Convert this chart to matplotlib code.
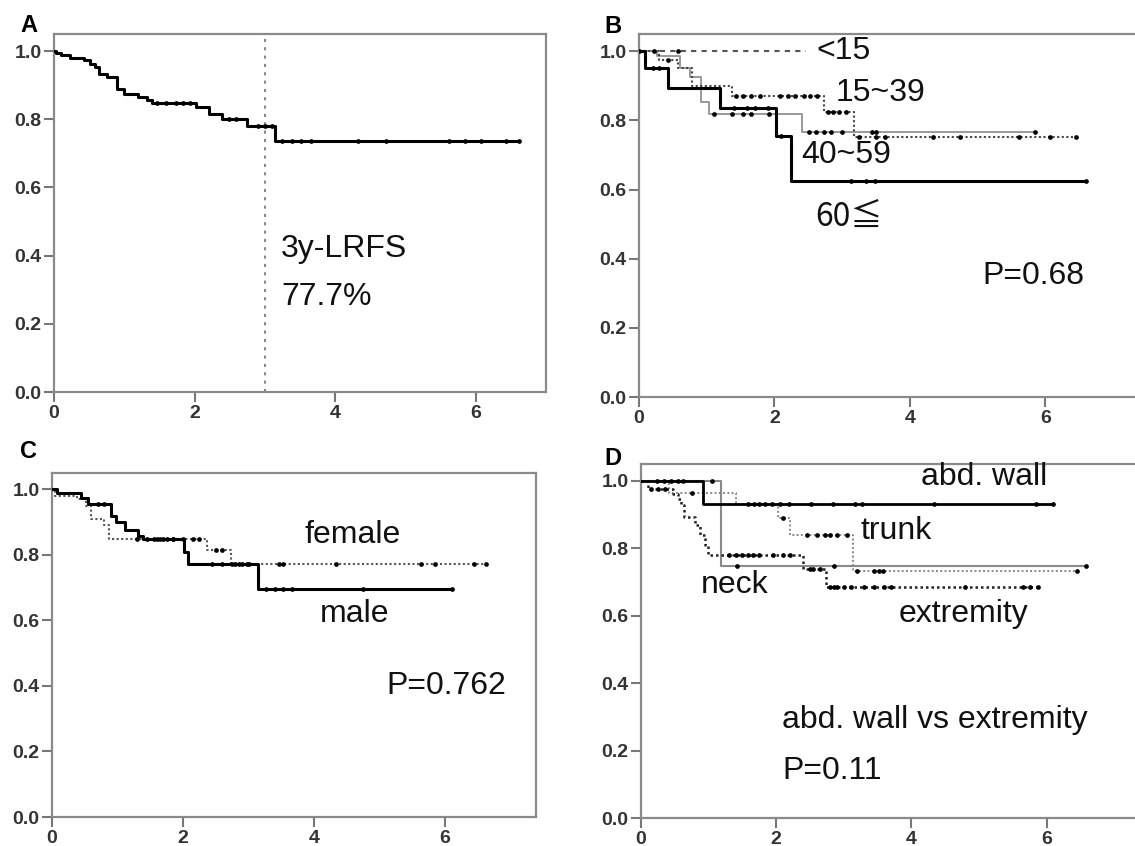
import numpy as np
import matplotlib
matplotlib.use('Agg')
import matplotlib.pyplot as plt

plt.rcParams['font.family'] = ['Liberation Sans', 'DejaVu Sans']

# ---- panel A: all patients
A_times = [0.03, 0.10, 0.23, 0.43, 0.51, 0.58, 0.64, 0.76, 0.90, 0.99, 1.19, 1.32, 1.40,
           2.02, 2.21, 2.39, 2.74, 3.15]
A_surv = [0.995, 0.987, 0.980, 0.973, 0.963, 0.953, 0.933, 0.923, 0.889, 0.874, 0.864, 0.857, 0.848,
          0.835, 0.815, 0.802, 0.779, 0.737]
A_cens = [1.47, 1.60, 1.73, 1.83, 1.93, 2.49, 2.59, 2.90, 3.0, 3.1, 3.25, 3.38, 3.51, 3.66,
          4.32, 4.73, 5.62, 5.85, 6.08, 6.43, 6.61]
A_end = 6.61

# ---- panel B: age groups
B_lt15_times, B_lt15_surv, B_lt15_cens, B_lt15_end = [], [], [0.0, 0.22, 0.57], 2.47
B_15_times = [0.30, 0.57, 0.79, 1.38, 2.74, 3.17]
B_15_surv = [0.976, 0.951, 0.90, 0.871, 0.825, 0.752]
B_15_cens = [0.43, 1.44, 1.54, 1.65, 1.79, 2.09, 2.20, 2.30, 2.44, 2.52, 2.63, 2.79, 2.87, 2.95,
             3.06, 3.25, 3.50, 3.63, 4.34, 4.74, 5.61, 6.07, 6.45]
B_15_end = 6.45
B_40_times = [0.27, 0.60, 0.76, 0.92, 1.03, 2.41]
B_40_surv = [0.985, 0.951, 0.927, 0.854, 0.820, 0.767]
B_40_cens = [1.11, 1.38, 1.54, 1.65, 1.92, 2.51, 2.62, 2.73, 2.84, 3.0, 3.44, 3.50, 5.85]
B_40_end = 5.85
B_60_times = [0.09, 0.43, 1.19, 2.03, 2.25]
B_60_surv = [0.951, 0.895, 0.837, 0.755, 0.626]
B_60_cens = [0.2, 0.3, 1.4, 1.6, 1.72, 1.9, 2.1, 3.13, 3.35, 3.48, 6.6]
B_60_end = 6.6

# ---- panel C: sex
C_m_times = [0.08, 0.44, 0.55, 0.90, 0.98, 1.12, 1.31, 1.39, 2.02, 2.07, 3.14]
C_m_surv = [0.99, 0.975, 0.955, 0.92, 0.90, 0.876, 0.858, 0.848, 0.81, 0.772, 0.695]
C_m_cens = [0.7, 0.8, 1.55, 1.65, 1.75, 1.85, 2.45, 2.59, 2.75, 2.86, 2.97, 3.27, 3.41, 3.52,
            3.66, 4.75, 6.11]
C_m_end = 6.11
C_f_times = [0.05, 0.38, 0.52, 0.60, 0.79, 0.87, 2.37, 2.73]
C_f_surv = [0.98, 0.97, 0.95, 0.91, 0.89, 0.85, 0.815, 0.772]
C_f_cens = [1.3, 1.45, 1.6, 1.7, 1.85, 2.0, 2.15, 2.25, 2.5, 2.6, 2.8, 2.9, 3.0, 3.47, 3.52,
            4.34, 5.64, 5.85, 6.45, 6.63]
C_f_end = 6.63

# ---- panel D: site
D_abd_times, D_abd_surv = [0.91], [0.93]
D_abd_cens = [0.23, 0.34, 0.45, 0.54, 0.62, 1.59, 1.67, 1.75, 1.84, 1.94, 2.05, 2.19, 2.51, 2.84,
              3.16, 3.27, 4.33, 5.85, 6.09]
D_abd_end = 6.09
D_tr_times = [0.42, 1.40, 2.02, 2.21, 3.14]
D_tr_surv = [0.965, 0.93, 0.89, 0.84, 0.734]
D_tr_cens = [0.75, 2.1, 2.45, 2.6, 2.72, 2.8, 2.9, 3.05, 3.2, 3.45, 3.52, 3.58, 6.45]
D_tr_end = 6.45
D_nk_times, D_nk_surv = [1.18], [0.747]
D_nk_cens = [1.05, 1.42, 2.86, 6.58]
D_nk_end = 6.58
D_ex_times = [0.10, 0.48, 0.55, 0.59, 0.64, 0.80, 0.88, 0.94, 0.99, 2.40, 2.73]
D_ex_surv = [0.975, 0.962, 0.947, 0.927, 0.893, 0.868, 0.84, 0.81, 0.779, 0.74, 0.685]
D_ex_cens = [0.15, 0.25, 0.35, 1.3, 1.4, 1.5, 1.58, 1.65, 1.75, 1.95, 2.1, 2.2, 2.5, 2.55, 2.65,
             2.8, 2.85, 2.9, 3.0, 3.1, 3.3, 3.45, 3.6, 3.7, 4.8, 5.65, 5.75, 5.88]
D_ex_end = 5.88


def km(ax, times, surv, cens, end, color='black', lw=2.0, ls='-', ms=3.4):
    x = [0.0] + list(times) + [end]
    y = [1.0] + list(surv) + [surv[-1] if surv else 1.0]
    ax.step(x, y, where='post', color=color, lw=lw, linestyle=ls, zorder=3)
    t = np.array(times)
    s = np.array([1.0] + list(surv))
    idx = np.searchsorted(t, np.array(cens), side='right')
    ax.plot(cens, s[idx], 'o', color='black', ms=ms, mec='none', zorder=4)


def frame(ax, xmax):
    ax.set_xlim(0, xmax)
    ax.set_ylim(0, 1.05)
    ax.set_xticks([0, 2, 4, 6])
    ax.set_yticks([0.0, 0.2, 0.4, 0.6, 0.8, 1.0])
    ax.set_yticklabels(['0.0', '0.2', '0.4', '0.6', '0.8', '1.0'])
    for sp in ax.spines.values():
        sp.set_color('#8a8a8a')
        sp.set_linewidth(1.6)
    ax.tick_params(direction='out', length=7, width=1.5, color='#777777',
                   labelsize=14, labelcolor='#333333', pad=2)
    for lab in ax.get_xticklabels() + ax.get_yticklabels():
        lab.set_fontweight('bold')


W, H = 1135, 846
fig = plt.figure(figsize=(W / 100, H / 100), dpi=100)

def px_axes(left, right, top, bottom):
    return fig.add_axes([left / W, 1 - bottom / H, (right - left) / W, (bottom - top) / H])

txt = dict(fontsize=23, color='#111111', va='center', ha='left')

# A
axA = px_axes(54, 546, 34, 392)
frame(axA, 7.0)
axA.axvline(3.0, color='#888888', lw=1.5, linestyle=(0, (1.5, 2.5)))
km(axA, A_times, A_surv, A_cens, A_end, lw=2.2)
axA.text(3.23, 0.42, '3y-LRFS', **txt)
axA.text(3.23, 0.28, '77.7%', **txt)

# B
axB = px_axes(639, 1150, 34, 397)
frame(axB, (1150 - 639) / 67.7)
km(axB, B_lt15_times, B_lt15_surv, B_lt15_cens, B_lt15_end, color='#555555', lw=1.5, ls=(0, (2.5, 2.5)))
km(axB, B_40_times, B_40_surv, B_40_cens, B_40_end, color='#999999', lw=1.4)
km(axB, B_15_times, B_15_surv, B_15_cens, B_15_end, color='#444444', lw=1.5, ls=(0, (1, 1.2)))
km(axB, B_60_times, B_60_surv, B_60_cens, B_60_end, lw=2.2)
axB.text(2.62, 1.0, '<15', **txt)
axB.text(2.9, 0.88, '15~39', **txt)
axB.text(2.4, 0.70, '40~59', **txt)
axB.text(2.6, 0.52, '60≦', fontsize=23, color='#111111', va='center', ha='left',
         family=['Noto Sans CJK JP', 'DejaVu Sans'])
axB.text(5.07, 0.35, 'P=0.68', **txt)

# C
axC = px_axes(52, 536, 473, 817)
frame(axC, (536 - 52) / 65.5)
km(axC, C_f_times, C_f_surv, C_f_cens, C_f_end, color='#555555', lw=1.5, ls=(0, (1, 1.2)))
km(axC, C_m_times, C_m_surv, C_m_cens, C_m_end, lw=2.2)
axC.text(3.85, 0.86, 'female', **txt)
axC.text(4.09, 0.62, 'male', **txt)
axC.text(5.1, 0.40, 'P=0.762', **txt)

# D
axD = px_axes(641, 1150, 464, 818)
frame(axD, (1150 - 641) / 67.6)
km(axD, D_nk_times, D_nk_surv, D_nk_cens, D_nk_end, color='#8a8a8a', lw=1.5)
km(axD, D_tr_times, D_tr_surv, D_tr_cens, D_tr_end, color='#888888', lw=1.4, ls=(0, (1, 1.2)))
km(axD, D_ex_times, D_ex_surv, D_ex_cens, D_ex_end, color='#222222', lw=1.8, ls=(0, (1, 1.2)))
km(axD, D_abd_times, D_abd_surv, D_abd_cens, D_abd_end, lw=2.0)
axD.text(4.14, 1.01, 'abd. wall', **txt)
axD.text(3.24, 0.85, 'trunk', **txt)
axD.text(0.88, 0.69, 'neck', **txt)
axD.text(3.81, 0.605, 'extremity', **txt)
axD.text(2.09, 0.29, 'abd. wall vs extremity', **txt)
axD.text(2.09, 0.14, 'P=0.11', **txt)

lab = dict(fontsize=17, fontweight='bold', color='black', va='baseline')
fig.text(20 / W, 1 - 32 / H, 'A', **lab)
fig.text(604 / W, 1 - 33 / H, 'B', **lab)
fig.text(20 / W, 1 - 458 / H, 'C', **lab)
fig.text(604 / W, 1 - 465 / H, 'D', **lab)

fig.savefig('out.png', dpi=100)
